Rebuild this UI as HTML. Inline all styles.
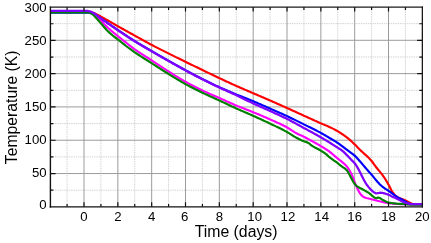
<!DOCTYPE html>
<html><head><meta charset="utf-8"><title>Temperature vs Time</title>
<style>
html,body{margin:0;padding:0;background:#fff;}
body{width:431px;height:243px;overflow:hidden;position:relative;font-family:"Liberation Sans",sans-serif;}
</style></head><body>
<svg width="431" height="243" viewBox="0 0 431 243" style="position:absolute;left:0;top:0;will-change:transform">
<rect x="0" y="0" width="431" height="243" fill="#fff"/>
<path d="M67.08 7.1 V206.85 M100.92 7.1 V206.85 M134.75 7.1 V206.85 M168.59 7.1 V206.85 M202.42 7.1 V206.85 M236.26 7.1 V206.85 M270.09 7.1 V206.85 M303.93 7.1 V206.85 M337.76 7.1 V206.85 M371.60 7.1 V206.85 M405.43 7.1 V206.85 M50.4 190.20 H422.35 M50.4 156.89 H422.35 M50.4 123.58 H422.35 M50.4 90.27 H422.35 M50.4 56.96 H422.35 M50.4 23.65 H422.35" stroke="#d2d2d2" stroke-width="1" stroke-dasharray="1.4 0.9" fill="none"/>
<path d="M84.00 7.1 V206.85 M117.84 7.1 V206.85 M151.67 7.1 V206.85 M185.50 7.1 V206.85 M219.34 7.1 V206.85 M253.18 7.1 V206.85 M287.01 7.1 V206.85 M320.85 7.1 V206.85 M354.68 7.1 V206.85 M388.51 7.1 V206.85 M50.4 173.54 H422.35 M50.4 140.23 H422.35 M50.4 106.92 H422.35 M50.4 73.62 H422.35 M50.4 40.31 H422.35" stroke="#9c9c9c" stroke-width="1" fill="none"/>
<clipPath id="c"><rect x="50.4" y="7.1" width="371.95000000000005" height="199.75"/></clipPath>
<g clip-path="url(#c)" fill="none" stroke-linejoin="round" stroke-linecap="butt">
<polyline points="50.4,11.80 51.4,11.80 52.4,11.80 53.4,11.80 54.4,11.80 55.4,11.80 56.4,11.80 57.4,11.80 58.4,11.80 59.4,11.80 60.4,11.80 61.4,11.80 62.4,11.80 63.4,11.80 64.4,11.80 65.4,11.80 66.4,11.80 67.4,11.80 68.4,11.80 69.4,11.80 70.4,11.80 71.4,11.80 72.4,11.80 73.4,11.80 74.4,11.80 75.4,11.80 76.4,11.80 77.4,11.80 78.4,11.80 79.4,11.80 80.4,11.80 81.4,11.80 82.4,11.80 83.4,11.80 84.4,11.80 85.4,11.80 86.4,11.80 86.5,11.80 87.4,11.83 88.4,11.91 89.4,12.02 90.0,12.10 90.4,12.16 91.4,12.36 92.4,12.62 93.0,12.80 93.4,12.93 94.4,13.32 95.4,13.78 96.4,14.25 96.5,14.30 97.4,14.74 98.4,15.25 99.4,15.78 100.4,16.32 100.9,16.60 101.4,16.86 102.4,17.41 103.4,17.96 104.4,18.52 105.4,19.08 106.4,19.65 107.4,20.22 108.4,20.79 109.4,21.37 110.4,21.94 111.4,22.52 112.4,23.10 113.4,23.67 114.4,24.25 115.4,24.82 116.4,25.39 117.4,25.96 117.8,26.20 118.4,26.52 119.4,27.08 120.4,27.64 121.4,28.20 122.4,28.75 123.4,29.31 124.4,29.87 125.4,30.42 126.4,30.98 127.4,31.53 128.4,32.09 129.4,32.64 130.4,33.19 131.4,33.75 132.4,34.30 133.4,34.85 134.4,35.41 134.8,35.60 135.4,35.96 136.4,36.51 137.4,37.07 138.4,37.62 139.4,38.18 140.4,38.74 141.4,39.30 142.4,39.85 143.4,40.41 144.4,40.96 145.4,41.51 146.4,42.06 147.4,42.61 148.4,43.15 149.4,43.69 150.4,44.23 151.4,44.76 151.7,44.90 152.4,45.28 153.4,45.81 154.4,46.33 155.4,46.85 156.4,47.36 157.4,47.87 158.4,48.38 159.4,48.89 160.4,49.40 161.4,49.90 162.4,50.41 163.4,50.91 164.4,51.41 165.4,51.91 166.4,52.41 167.4,52.91 168.4,53.41 168.6,53.50 169.4,53.91 170.4,54.40 171.4,54.90 172.4,55.39 173.4,55.89 174.4,56.38 175.4,56.87 176.4,57.36 177.4,57.85 178.4,58.34 179.4,58.82 180.4,59.31 181.4,59.80 182.4,60.29 183.4,60.77 184.4,61.26 185.4,61.75 185.5,61.80 186.4,62.24 187.4,62.72 188.4,63.21 189.4,63.70 190.4,64.18 191.4,64.67 192.4,65.15 193.4,65.64 194.4,66.12 195.4,66.61 196.4,67.09 197.4,67.58 198.4,68.06 199.4,68.54 200.4,69.02 201.4,69.51 202.4,69.99 202.4,70.00 203.4,70.47 204.4,70.95 205.4,71.44 206.4,71.92 207.4,72.40 208.4,72.88 209.4,73.36 210.4,73.84 211.4,74.32 212.4,74.80 213.4,75.28 214.4,75.76 215.4,76.24 216.4,76.71 217.4,77.19 218.4,77.66 219.3,78.10 219.4,78.13 220.4,78.60 221.4,79.07 222.4,79.54 223.4,80.00 224.4,80.47 225.4,80.94 226.4,81.40 227.4,81.87 228.4,82.33 229.4,82.79 230.4,83.25 231.4,83.71 232.4,84.16 233.4,84.62 234.4,85.07 235.4,85.52 236.3,85.90 236.4,85.96 237.4,86.41 238.4,86.85 239.4,87.29 240.4,87.72 241.4,88.15 242.4,88.59 243.4,89.02 244.4,89.44 245.4,89.87 246.4,90.30 247.4,90.73 248.4,91.15 249.4,91.58 250.4,92.01 251.4,92.44 252.4,92.87 253.2,93.20 253.4,93.30 254.4,93.73 255.4,94.16 256.4,94.59 257.4,95.02 258.4,95.45 259.4,95.88 260.4,96.31 261.4,96.74 262.4,97.17 263.4,97.60 264.4,98.03 265.4,98.46 266.4,98.89 267.4,99.33 268.4,99.76 269.4,100.20 270.1,100.50 270.4,100.63 271.4,101.07 272.4,101.51 273.4,101.95 274.4,102.39 275.4,102.83 276.4,103.27 277.4,103.72 278.4,104.16 279.4,104.60 280.4,105.05 281.4,105.49 282.4,105.94 283.4,106.38 284.4,106.83 285.4,107.28 286.4,107.73 287.0,108.00 287.4,108.18 288.4,108.63 289.4,109.08 290.4,109.53 291.4,109.99 292.4,110.44 293.4,110.90 294.4,111.35 295.4,111.81 296.4,112.27 297.4,112.73 298.4,113.18 299.4,113.64 300.4,114.10 301.4,114.55 302.4,115.01 303.4,115.46 303.9,115.70 304.4,115.91 305.4,116.37 306.4,116.82 307.4,117.27 308.4,117.73 309.4,118.18 310.4,118.64 311.4,119.09 312.4,119.54 313.4,119.99 314.4,120.44 315.4,120.89 316.4,121.34 317.4,121.78 318.4,122.23 319.4,122.67 320.4,123.11 320.8,123.30 321.4,123.54 322.4,123.96 323.4,124.38 324.4,124.79 325.4,125.20 326.4,125.62 327.4,126.05 328.4,126.49 329.3,126.90 329.4,126.95 330.4,127.42 331.4,127.90 332.4,128.39 333.4,128.90 334.4,129.42 335.4,129.95 336.4,130.50 337.4,131.07 337.8,131.30 338.4,131.66 339.4,132.31 340.0,132.70 340.4,132.96 341.4,133.61 342.4,134.26 343.4,134.92 344.4,135.60 345.4,136.31 346.2,136.90 346.4,137.05 347.4,137.84 348.4,138.67 349.4,139.52 350.4,140.40 351.4,141.31 352.4,142.23 353.4,143.17 354.4,144.12 354.7,144.40 355.4,145.08 356.4,146.09 357.4,147.14 358.4,148.18 359.4,149.21 360.2,150.00 360.4,150.19 361.4,151.13 362.4,152.04 363.4,152.94 364.4,153.83 365.4,154.73 366.4,155.65 367.4,156.60 367.6,156.80 368.4,157.59 369.4,158.60 370.4,159.65 371.4,160.77 371.6,161.00 372.4,162.00 373.4,163.37 374.4,164.80 375.4,166.20 376.0,167.00 376.4,167.51 377.4,168.73 378.4,169.95 378.6,170.20 379.4,171.20 380.4,172.43 381.4,173.67 382.4,174.95 383.4,176.30 384.1,177.30 384.4,177.74 385.4,179.30 386.4,180.95 387.4,182.67 388.4,184.44 388.6,184.80 389.4,186.32 390.4,188.34 391.4,190.26 391.9,191.10 392.4,191.86 393.4,193.27 394.4,194.49 394.5,194.60 395.4,195.56 396.4,196.43 396.5,196.50 397.4,197.04 398.4,197.54 399.4,197.97 400.4,198.40 401.4,198.82 402.4,199.21 403.4,199.58 404.4,199.97 405.4,200.40 405.5,200.45 406.4,200.89 407.4,201.44 408.4,202.00 409.4,202.53 409.7,202.67 410.4,203.02 411.4,203.52 412.4,203.89 412.7,203.95 413.4,204.05 414.4,204.17 415.4,204.24 416.0,204.25 416.4,204.25 417.4,204.25 418.4,204.25 419.4,204.25 420.4,204.25 421.4,204.25 422.4,204.25" stroke="#ff0000" stroke-width="2.15"/>
<polyline points="50.4,12.60 51.4,12.60 52.4,12.60 53.4,12.60 54.4,12.60 55.4,12.60 56.4,12.60 57.4,12.60 58.4,12.60 59.4,12.60 60.4,12.60 61.4,12.60 62.4,12.60 63.4,12.60 64.4,12.60 65.4,12.60 66.4,12.60 67.4,12.60 68.4,12.60 69.4,12.60 70.4,12.60 71.4,12.60 72.4,12.60 73.4,12.60 74.4,12.60 75.4,12.60 76.4,12.60 77.4,12.60 78.4,12.60 79.4,12.60 80.4,12.60 81.4,12.60 82.4,12.60 83.4,12.60 84.4,12.60 85.4,12.60 86.4,12.60 86.5,12.60 87.4,12.64 88.4,12.75 89.4,12.90 90.0,13.00 90.4,13.07 91.4,13.31 92.4,13.60 93.0,13.80 93.4,13.94 94.4,14.35 95.4,14.82 96.4,15.35 96.5,15.40 97.4,15.93 98.4,16.60 99.4,17.32 100.4,18.04 100.9,18.40 101.4,18.73 102.4,19.41 103.4,20.10 104.4,20.79 105.4,21.48 106.4,22.17 107.4,22.86 108.4,23.55 109.4,24.24 110.4,24.93 111.4,25.62 112.4,26.31 113.4,26.99 114.4,27.68 115.4,28.36 116.4,29.03 117.4,29.71 117.8,30.00 118.4,30.38 119.4,31.05 120.4,31.72 121.4,32.39 122.4,33.06 123.4,33.73 124.4,34.40 125.4,35.06 126.4,35.72 127.4,36.38 128.4,37.04 129.4,37.69 130.4,38.34 131.4,38.98 132.4,39.62 133.4,40.25 134.4,40.88 134.8,41.10 135.4,41.50 136.4,42.12 137.4,42.73 138.4,43.33 139.4,43.93 140.4,44.53 141.4,45.12 142.4,45.71 143.4,46.29 144.4,46.88 145.4,47.46 146.4,48.04 147.4,48.62 148.4,49.20 149.4,49.78 150.4,50.36 151.4,50.94 151.7,51.10 152.4,51.52 153.4,52.11 154.4,52.69 155.4,53.26 156.4,53.84 157.4,54.42 158.4,54.99 159.4,55.57 160.4,56.14 161.4,56.72 162.4,57.29 163.4,57.86 164.4,58.43 165.4,59.00 166.4,59.56 167.4,60.13 168.4,60.69 168.6,60.80 169.4,61.26 170.4,61.82 171.4,62.39 172.4,62.95 173.4,63.51 174.4,64.07 175.4,64.63 176.4,65.19 177.4,65.75 178.4,66.30 179.4,66.86 180.4,67.41 181.4,67.96 182.4,68.51 183.4,69.06 184.4,69.60 185.4,70.14 185.5,70.20 186.4,70.68 187.4,71.22 188.4,71.76 189.4,72.30 190.4,72.84 191.4,73.37 192.4,73.90 193.4,74.43 194.4,74.96 195.4,75.49 196.4,76.01 197.4,76.53 198.4,77.05 199.4,77.57 200.4,78.08 201.4,78.59 202.4,79.09 202.4,79.10 203.4,79.59 204.4,80.09 205.4,80.58 206.4,81.08 207.4,81.57 208.4,82.06 209.4,82.54 210.4,83.03 211.4,83.51 212.4,83.98 213.4,84.46 214.4,84.93 215.4,85.39 216.4,85.86 217.4,86.32 218.4,86.77 219.3,87.20 219.4,87.23 220.4,87.68 221.4,88.12 222.4,88.56 223.4,89.00 224.4,89.43 225.4,89.86 226.4,90.29 227.4,90.71 228.4,91.13 229.4,91.55 230.4,91.97 231.4,92.39 232.4,92.80 233.4,93.22 234.4,93.63 235.4,94.05 236.3,94.40 236.4,94.46 237.4,94.87 238.4,95.28 239.4,95.68 240.4,96.08 241.4,96.48 242.4,96.87 243.4,97.27 244.4,97.66 245.4,98.06 246.4,98.45 247.4,98.85 248.4,99.25 249.4,99.65 250.4,100.06 251.4,100.46 252.4,100.88 253.2,101.20 253.4,101.29 254.4,101.72 255.4,102.14 256.4,102.57 257.4,103.00 258.4,103.44 259.4,103.87 260.4,104.31 261.4,104.75 262.4,105.19 263.4,105.64 264.4,106.08 265.4,106.52 266.4,106.97 267.4,107.41 268.4,107.85 269.4,108.29 270.1,108.60 270.4,108.74 271.4,109.17 272.4,109.61 273.4,110.05 274.4,110.48 275.4,110.92 276.4,111.36 277.4,111.79 278.4,112.23 279.4,112.67 280.4,113.11 281.4,113.55 282.4,114.00 283.4,114.45 284.4,114.90 285.4,115.36 286.4,115.82 287.0,116.10 287.4,116.28 288.4,116.75 289.4,117.23 290.4,117.71 291.4,118.19 292.4,118.68 293.4,119.16 294.4,119.66 295.4,120.15 296.4,120.65 297.4,121.14 298.4,121.64 299.4,122.14 300.4,122.64 301.4,123.14 302.4,123.64 303.4,124.14 303.9,124.40 304.4,124.63 305.4,125.13 306.4,125.62 307.4,126.11 308.4,126.60 309.4,127.09 310.4,127.58 311.4,128.07 312.4,128.56 313.4,129.05 314.4,129.55 315.4,130.06 316.4,130.56 317.4,131.08 318.4,131.60 319.4,132.12 320.4,132.66 320.8,132.90 321.4,133.20 322.4,133.76 323.4,134.33 324.4,134.90 325.4,135.49 326.4,136.08 327.4,136.67 328.4,137.26 329.3,137.80 329.4,137.86 330.4,138.45 331.4,139.04 332.4,139.63 333.4,140.23 334.4,140.83 335.4,141.45 336.4,142.08 337.4,142.73 337.8,143.00 338.4,143.41 339.4,144.12 340.4,144.86 341.4,145.61 342.4,146.38 343.4,147.15 344.4,147.93 345.4,148.69 346.2,149.30 346.4,149.45 347.4,150.18 348.4,150.89 349.4,151.59 350.4,152.30 351.4,153.03 352.4,153.78 353.4,154.57 354.4,155.42 354.6,155.60 355.4,156.34 356.4,157.35 357.4,158.42 358.4,159.54 359.4,160.68 360.4,161.83 360.9,162.40 361.4,162.98 362.4,164.16 363.4,165.37 364.4,166.56 364.6,166.80 365.4,167.74 366.4,168.92 367.4,170.07 367.6,170.30 368.4,171.19 369.4,172.27 370.4,173.36 371.4,174.47 371.6,174.70 372.4,175.65 373.4,176.89 374.4,178.14 375.4,179.37 376.1,180.20 376.4,180.55 377.4,181.71 378.4,182.84 379.4,183.91 380.0,184.50 380.4,184.88 381.4,185.77 382.4,186.61 383.4,187.40 384.2,188.00 384.4,188.14 385.4,188.82 386.4,189.45 387.4,190.08 388.4,190.73 388.5,190.80 389.4,191.44 390.4,192.18 391.4,192.91 391.8,193.20 392.4,193.63 393.4,194.35 394.4,195.08 395.4,195.79 396.4,196.47 397.4,197.12 398.2,197.60 398.4,197.71 399.4,198.23 400.4,198.72 401.4,199.23 401.6,199.33 402.4,199.80 403.4,200.43 404.4,201.05 405.4,201.62 405.5,201.67 406.4,202.14 407.4,202.67 408.4,203.16 409.4,203.56 410.4,203.83 410.5,203.85 411.4,204.00 412.4,204.15 413.4,204.23 414.0,204.25 414.4,204.25 415.4,204.25 416.4,204.25 417.4,204.25 418.4,204.25 419.4,204.25 420.4,204.25 421.4,204.25 422.4,204.25" stroke="#0000ff" stroke-width="2.15"/>
<polyline points="50.4,11.80 51.4,11.80 52.4,11.80 53.4,11.80 54.4,11.80 55.4,11.80 56.4,11.80 57.4,11.80 58.4,11.80 59.4,11.80 60.4,11.80 61.4,11.80 62.4,11.80 63.4,11.80 64.4,11.80 65.4,11.80 66.4,11.80 67.4,11.80 68.4,11.80 69.4,11.80 70.4,11.80 71.4,11.80 72.4,11.80 73.4,11.80 74.4,11.80 75.4,11.80 76.4,11.80 77.4,11.80 78.4,11.80 79.4,11.80 80.4,11.80 81.4,11.80 82.4,11.80 83.4,11.80 84.4,11.80 85.4,11.80 86.4,11.80 86.5,11.80 87.4,11.86 88.4,12.02 89.4,12.25 90.0,12.40 90.4,12.51 91.4,12.86 92.4,13.31 93.0,13.60 93.4,13.81 94.4,14.42 95.4,15.14 96.0,15.60 96.4,15.93 97.4,16.85 98.4,17.88 99.4,18.96 100.4,20.05 101.1,20.80 101.4,21.12 102.4,22.21 103.4,23.31 104.4,24.39 105.0,25.00 105.4,25.39 106.4,26.35 107.4,27.28 108.4,28.18 109.4,29.07 110.0,29.60 110.4,29.95 111.4,30.82 112.4,31.67 113.4,32.52 114.4,33.35 115.4,34.18 116.4,35.00 117.4,35.81 118.0,36.30 118.4,36.62 119.4,37.42 120.4,38.21 121.4,38.99 121.8,39.30 122.4,39.77 123.4,40.56 124.4,41.35 125.4,42.14 126.4,42.93 127.4,43.72 128.4,44.51 129.4,45.29 130.4,46.06 131.4,46.83 132.4,47.58 133.4,48.32 134.4,49.05 134.8,49.30 135.4,49.76 136.4,50.46 137.4,51.14 138.4,51.82 139.4,52.49 140.4,53.15 141.4,53.80 142.4,54.45 143.4,55.09 144.4,55.73 145.4,56.37 146.4,57.01 147.4,57.64 148.4,58.28 149.4,58.93 150.4,59.57 151.4,60.22 151.7,60.40 152.4,60.88 153.4,61.54 154.4,62.20 155.4,62.86 156.4,63.53 157.4,64.19 158.4,64.86 159.4,65.52 160.4,66.18 161.4,66.84 162.4,67.50 163.4,68.16 164.4,68.81 165.4,69.46 166.4,70.11 167.4,70.75 168.4,71.38 168.6,71.50 169.4,72.01 170.4,72.65 171.4,73.28 172.4,73.91 173.4,74.54 174.4,75.16 175.4,75.79 176.4,76.41 177.4,77.02 178.4,77.64 179.4,78.24 180.4,78.84 181.4,79.44 182.4,80.03 183.4,80.61 184.4,81.18 185.4,81.74 185.5,81.80 186.4,82.30 187.4,82.85 188.4,83.39 189.4,83.93 190.4,84.46 191.4,84.99 192.4,85.51 193.4,86.03 194.4,86.55 195.4,87.05 196.4,87.56 197.4,88.06 198.4,88.55 199.4,89.04 200.4,89.53 201.4,90.01 202.4,90.49 202.4,90.50 203.4,90.96 204.4,91.43 205.4,91.89 206.4,92.34 207.4,92.79 208.4,93.23 209.4,93.67 210.4,94.11 211.4,94.54 212.4,94.98 213.4,95.41 214.4,95.84 215.4,96.28 216.4,96.71 217.4,97.15 218.4,97.58 219.3,98.00 219.4,98.03 220.4,98.47 221.4,98.92 222.4,99.37 223.4,99.82 224.4,100.27 225.4,100.72 226.4,101.17 227.4,101.62 228.4,102.07 229.4,102.52 230.4,102.97 231.4,103.41 232.4,103.85 233.4,104.28 234.4,104.71 235.4,105.14 236.3,105.50 236.4,105.56 237.4,105.97 238.4,106.38 239.4,106.78 240.4,107.18 241.4,107.58 242.4,107.97 243.4,108.36 244.4,108.74 245.4,109.13 246.4,109.52 247.4,109.91 248.4,110.30 249.4,110.69 250.4,111.08 251.4,111.48 252.4,111.88 253.2,112.20 253.4,112.29 254.4,112.70 255.4,113.12 256.4,113.53 257.4,113.94 258.4,114.36 259.4,114.78 260.4,115.20 261.4,115.62 262.4,116.05 263.4,116.47 264.4,116.90 265.4,117.33 266.4,117.77 267.4,118.21 268.4,118.65 269.4,119.09 270.1,119.40 270.4,119.54 271.4,119.98 272.4,120.43 273.4,120.87 274.4,121.32 275.4,121.76 276.4,122.21 277.4,122.67 278.4,123.12 279.4,123.59 280.4,124.06 281.4,124.53 282.4,125.02 283.4,125.52 284.4,126.02 285.4,126.54 286.4,127.07 287.0,127.40 287.4,127.62 288.4,128.20 289.4,128.83 290.4,129.48 291.4,130.14 292.4,130.80 293.4,131.45 294.4,132.07 295.4,132.67 296.0,133.00 296.4,133.21 297.4,133.72 298.4,134.21 299.4,134.67 300.4,135.13 301.4,135.59 302.4,136.05 303.4,136.54 303.9,136.80 304.4,137.04 305.4,137.55 306.4,138.07 307.4,138.59 308.4,139.12 309.4,139.65 310.4,140.18 311.4,140.73 312.4,141.27 313.4,141.82 314.4,142.38 315.4,142.94 316.4,143.51 317.4,144.08 318.4,144.66 319.4,145.25 320.4,145.84 320.8,146.10 321.4,146.43 322.4,147.03 323.4,147.63 324.4,148.25 325.4,148.87 326.4,149.51 327.4,150.18 328.4,150.86 329.3,151.50 329.4,151.57 330.4,152.33 331.4,153.13 332.4,153.96 333.4,154.82 334.4,155.69 335.4,156.57 336.4,157.43 337.4,158.27 337.8,158.60 338.4,159.08 339.4,159.88 340.4,160.66 341.4,161.45 342.4,162.26 342.8,162.60 343.4,163.11 344.4,163.96 345.4,164.90 345.5,165.00 346.4,165.96 347.4,167.17 347.5,167.30 348.4,168.62 349.4,170.28 349.7,170.80 350.4,172.05 351.4,173.96 352.0,175.20 352.4,176.08 353.4,178.48 353.6,179.00 354.4,181.33 354.5,181.60 355.4,183.91 356.4,186.29 357.4,188.53 357.5,188.75 358.4,190.63 358.6,191.00 359.4,192.42 360.4,193.95 360.6,194.20 361.4,195.11 362.4,196.07 363.1,196.60 363.4,196.79 364.4,197.33 365.3,197.70 365.4,197.73 366.4,198.02 367.4,198.26 368.4,198.47 369.4,198.68 369.9,198.80 370.4,198.93 371.4,199.19 372.4,199.46 373.4,199.73 374.4,200.00 375.4,200.27 376.1,200.45 376.4,200.52 377.4,200.78 378.4,201.03 379.4,201.29 380.4,201.54 381.4,201.79 382.4,202.02 383.4,202.24 384.4,202.45 385.4,202.64 385.6,202.67 386.4,202.81 387.4,202.97 388.4,203.12 389.4,203.26 390.4,203.39 391.4,203.50 391.9,203.55 392.4,203.60 393.4,203.69 394.4,203.77 395.4,203.85 396.4,203.92 397.4,203.98 398.4,204.03 399.1,204.05 399.4,204.06 400.4,204.08 401.4,204.11 402.4,204.13 403.4,204.16 404.4,204.18 405.4,204.19 406.4,204.21 407.4,204.22 408.4,204.23 409.4,204.24 410.4,204.25 411.4,204.25 411.5,204.25 412.4,204.25 413.4,204.25 414.4,204.25 415.4,204.25 416.4,204.25 417.4,204.25 418.4,204.25 419.4,204.25 420.4,204.25 421.4,204.25 422.4,204.25" stroke="#ff00ff" stroke-width="2.15"/>
<polyline points="50.4,12.30 51.4,12.30 52.4,12.30 53.4,12.30 54.4,12.30 55.4,12.30 56.4,12.30 57.4,12.30 58.4,12.30 59.4,12.30 60.4,12.30 61.4,12.30 62.4,12.30 63.4,12.30 64.4,12.30 65.4,12.30 66.4,12.30 67.4,12.30 68.4,12.30 69.4,12.30 70.4,12.30 71.4,12.30 72.4,12.30 73.4,12.30 74.4,12.30 75.4,12.30 76.4,12.30 77.4,12.30 78.4,12.30 79.4,12.30 80.4,12.30 81.4,12.30 82.4,12.30 83.4,12.30 84.4,12.30 85.4,12.30 86.4,12.30 87.0,12.30 87.4,12.31 88.4,12.45 89.4,12.70 90.4,13.02 90.9,13.20 91.4,13.43 92.4,14.12 93.0,14.60 93.4,14.95 94.4,15.98 95.4,17.09 95.5,17.20 96.4,18.18 97.4,19.31 98.4,20.45 99.4,21.60 100.4,22.74 100.8,23.20 101.4,23.89 102.4,25.07 103.4,26.25 104.4,27.43 105.4,28.58 106.4,29.68 107.0,30.30 107.4,30.70 108.4,31.68 109.4,32.62 110.4,33.52 111.4,34.39 112.0,34.90 112.4,35.23 113.4,36.03 114.4,36.79 115.4,37.53 116.4,38.28 117.4,39.03 118.0,39.50 118.4,39.82 119.4,40.63 120.4,41.46 121.4,42.29 122.4,43.12 123.4,43.93 124.0,44.40 124.4,44.71 125.4,45.48 126.4,46.24 127.4,47.00 128.4,47.75 129.4,48.49 130.4,49.22 131.4,49.94 132.4,50.65 133.4,51.36 134.4,52.06 134.8,52.30 135.4,52.74 136.4,53.42 137.4,54.09 138.4,54.75 139.4,55.41 140.4,56.06 141.4,56.70 142.4,57.34 143.4,57.97 144.4,58.60 145.4,59.23 146.4,59.86 147.4,60.49 148.4,61.12 149.4,61.75 150.4,62.39 151.4,63.03 151.7,63.20 152.4,63.67 153.4,64.31 154.4,64.96 155.4,65.60 156.4,66.25 157.4,66.89 158.4,67.54 159.4,68.18 160.4,68.83 161.4,69.47 162.4,70.11 163.4,70.74 164.4,71.38 165.4,72.01 166.4,72.64 167.4,73.26 168.4,73.88 168.6,74.00 169.4,74.50 170.4,75.12 171.4,75.74 172.4,76.35 173.4,76.97 174.4,77.58 175.4,78.19 176.4,78.80 177.4,79.41 178.4,80.01 179.4,80.60 180.4,81.19 181.4,81.78 182.4,82.35 183.4,82.93 184.4,83.49 185.4,84.04 185.5,84.10 186.4,84.59 187.4,85.13 188.4,85.66 189.4,86.19 190.4,86.71 191.4,87.23 192.4,87.75 193.4,88.25 194.4,88.76 195.4,89.26 196.4,89.76 197.4,90.25 198.4,90.74 199.4,91.23 200.4,91.72 201.4,92.20 202.4,92.69 202.4,92.70 203.4,93.17 204.4,93.65 205.4,94.12 206.4,94.58 207.4,95.05 208.4,95.51 209.4,95.97 210.4,96.42 211.4,96.88 212.4,97.33 213.4,97.78 214.4,98.24 215.4,98.69 216.4,99.15 217.4,99.61 218.4,100.07 219.3,100.50 219.4,100.53 220.4,100.99 221.4,101.46 222.4,101.93 223.4,102.40 224.4,102.87 225.4,103.34 226.4,103.82 227.4,104.29 228.4,104.76 229.4,105.23 230.4,105.70 231.4,106.17 232.4,106.63 233.4,107.09 234.4,107.55 235.4,108.01 236.3,108.40 236.4,108.46 237.4,108.91 238.4,109.36 239.4,109.80 240.4,110.24 241.4,110.67 242.4,111.11 243.4,111.54 244.4,111.97 245.4,112.40 246.4,112.83 247.4,113.26 248.4,113.70 249.4,114.13 250.4,114.57 251.4,115.01 252.4,115.45 253.2,115.80 253.4,115.90 254.4,116.35 255.4,116.80 256.4,117.25 257.4,117.71 258.4,118.16 259.4,118.62 260.4,119.07 261.4,119.53 262.4,119.99 263.4,120.45 264.4,120.92 265.4,121.38 266.4,121.85 267.4,122.32 268.4,122.79 269.4,123.27 270.1,123.60 270.4,123.75 271.4,124.22 272.4,124.70 273.4,125.17 274.4,125.65 275.4,126.12 276.4,126.60 277.4,127.08 278.4,127.57 279.4,128.05 280.4,128.55 281.4,129.05 282.4,129.55 283.4,130.07 284.4,130.59 285.4,131.12 286.4,131.66 287.0,132.00 287.4,132.22 288.4,132.81 289.4,133.42 290.4,134.06 291.4,134.70 292.4,135.35 293.4,135.98 294.4,136.59 295.4,137.17 296.0,137.50 296.4,137.71 297.4,138.24 298.4,138.75 299.4,139.25 300.4,139.74 301.4,140.20 302.4,140.65 303.4,141.08 303.9,141.30 304.4,141.48 305.4,141.81 306.4,142.12 307.4,142.46 308.4,142.90 308.6,143.00 309.4,143.61 310.4,144.58 310.9,145.00 311.4,145.35 312.4,146.01 313.4,146.61 314.4,147.18 315.4,147.72 316.4,148.24 317.4,148.76 318.4,149.28 319.4,149.82 320.4,150.40 320.9,150.70 321.4,151.01 322.4,151.62 323.4,152.25 324.4,152.91 325.4,153.62 325.9,154.00 326.4,154.41 327.4,155.34 328.4,156.30 329.3,157.10 329.4,157.18 330.4,157.96 331.4,158.69 332.4,159.39 333.4,160.07 334.4,160.76 335.4,161.46 336.0,161.90 336.4,162.20 337.4,162.97 338.4,163.75 339.4,164.54 340.4,165.33 341.4,166.10 342.4,166.84 342.9,167.20 343.4,167.53 344.4,168.17 345.0,168.60 345.4,168.92 346.4,169.84 347.0,170.50 347.4,171.03 348.4,172.69 349.4,174.54 349.6,174.90 350.4,176.40 351.2,178.00 351.4,178.27 352.4,180.16 353.4,181.98 354.4,183.56 354.5,183.70 355.4,184.80 355.9,185.30 356.4,185.74 357.4,186.51 358.4,187.17 358.6,187.30 359.4,187.77 360.4,188.31 361.4,188.80 362.4,189.29 363.4,189.81 363.8,190.00 364.4,190.36 365.4,190.92 366.4,191.48 367.4,192.06 368.4,192.69 369.4,193.36 370.0,193.80 370.4,194.13 371.4,195.09 372.2,195.80 372.4,195.96 373.4,196.77 374.4,197.49 375.4,197.97 375.5,198.00 376.4,198.19 376.6,198.20 377.4,197.76 377.8,197.60 378.4,197.65 379.4,197.87 379.5,197.90 380.4,198.32 381.4,199.04 382.4,199.72 382.5,199.78 383.4,200.26 384.4,200.80 385.4,201.31 386.4,201.77 387.4,202.17 388.4,202.48 388.8,202.56 389.4,202.70 390.4,202.88 391.4,203.05 392.4,203.20 393.4,203.33 394.4,203.44 395.4,203.54 396.4,203.63 396.6,203.65 397.4,203.71 398.4,203.78 399.4,203.84 400.4,203.89 401.4,203.94 402.4,203.99 403.4,204.04 404.4,204.11 405.0,204.15 405.4,204.19 406.4,204.30 407.4,204.43 408.4,204.52 409.0,204.55 409.4,204.56 410.4,204.57 411.4,204.59 412.4,204.60 413.4,204.61 414.4,204.62 415.4,204.63 416.4,204.63 417.4,204.64 418.4,204.64 419.4,204.65 420.4,204.65 421.4,204.65 422.4,204.65" stroke="#008000" stroke-width="2.15"/>
<polyline points="50.4,10.80 51.4,10.80 52.4,10.80 53.4,10.80 54.4,10.80 55.4,10.80 56.4,10.80 57.4,10.80 58.4,10.80 59.4,10.80 60.4,10.80 61.4,10.80 62.4,10.80 63.4,10.80 64.4,10.80 65.4,10.80 66.4,10.80 67.4,10.80 68.4,10.80 69.4,10.80 70.4,10.80 71.4,10.80 72.4,10.80 73.4,10.80 74.4,10.80 75.4,10.80 76.4,10.80 77.4,10.80 78.4,10.80 79.4,10.80 80.4,10.80 81.4,10.80 82.4,10.80 83.4,10.80 84.4,10.80 85.4,10.80 86.4,10.80 86.5,10.80 87.4,10.86 88.4,11.02 89.4,11.25 90.0,11.40 90.4,11.51 91.4,11.90 92.4,12.39 93.0,12.70 93.4,12.92 94.4,13.53 95.4,14.22 96.4,14.93 96.5,15.00 97.4,15.66 98.4,16.44 99.4,17.23 100.4,18.01 100.9,18.40 101.4,18.76 102.4,19.49 103.4,20.21 104.4,20.93 105.4,21.65 106.4,22.35 107.4,23.06 108.4,23.75 109.4,24.45 110.4,25.14 111.4,25.83 112.4,26.51 113.4,27.19 114.4,27.87 115.4,28.55 116.4,29.23 117.4,29.91 117.8,30.20 118.4,30.58 119.4,31.26 120.4,31.93 121.4,32.60 122.4,33.27 123.4,33.94 124.4,34.61 125.4,35.27 126.4,35.93 127.4,36.59 128.4,37.25 129.4,37.90 130.4,38.54 131.4,39.18 132.4,39.82 133.4,40.45 134.4,41.08 134.8,41.30 135.4,41.70 136.4,42.32 137.4,42.93 138.4,43.53 139.4,44.13 140.4,44.73 141.4,45.32 142.4,45.91 143.4,46.49 144.4,47.08 145.4,47.66 146.4,48.24 147.4,48.82 148.4,49.40 149.4,49.98 150.4,50.56 151.4,51.14 151.7,51.30 152.4,51.72 153.4,52.31 154.4,52.89 155.4,53.46 156.4,54.04 157.4,54.62 158.4,55.19 159.4,55.77 160.4,56.34 161.4,56.92 162.4,57.49 163.4,58.06 164.4,58.63 165.4,59.20 166.4,59.76 167.4,60.33 168.4,60.89 168.6,61.00 169.4,61.46 170.4,62.02 171.4,62.59 172.4,63.15 173.4,63.71 174.4,64.27 175.4,64.83 176.4,65.39 177.4,65.95 178.4,66.50 179.4,67.06 180.4,67.61 181.4,68.16 182.4,68.71 183.4,69.26 184.4,69.80 185.4,70.34 185.5,70.40 186.4,70.88 187.4,71.42 188.4,71.96 189.4,72.50 190.4,73.03 191.4,73.57 192.4,74.10 193.4,74.63 194.4,75.16 195.4,75.68 196.4,76.21 197.4,76.73 198.4,77.24 199.4,77.76 200.4,78.27 201.4,78.78 202.4,79.29 202.4,79.30 203.4,79.79 204.4,80.29 205.4,80.79 206.4,81.28 207.4,81.78 208.4,82.27 209.4,82.76 210.4,83.24 211.4,83.72 212.4,84.21 213.4,84.69 214.4,85.16 215.4,85.64 216.4,86.11 217.4,86.59 218.4,87.06 219.3,87.50 219.4,87.53 220.4,87.99 221.4,88.46 222.4,88.92 223.4,89.37 224.4,89.82 225.4,90.27 226.4,90.72 227.4,91.17 228.4,91.62 229.4,92.07 230.4,92.52 231.4,92.97 232.4,93.42 233.4,93.88 234.4,94.34 235.4,94.80 236.3,95.20 236.4,95.27 237.4,95.74 238.4,96.22 239.4,96.70 240.4,97.19 241.4,97.67 242.4,98.17 243.4,98.66 244.4,99.15 245.4,99.64 246.4,100.14 247.4,100.63 248.4,101.12 249.4,101.60 250.4,102.08 251.4,102.56 252.4,103.04 253.2,103.40 253.4,103.50 254.4,103.97 255.4,104.43 256.4,104.88 257.4,105.33 258.4,105.78 259.4,106.23 260.4,106.67 261.4,107.11 262.4,107.56 263.4,108.00 264.4,108.44 265.4,108.89 266.4,109.33 267.4,109.78 268.4,110.23 269.4,110.68 270.1,111.00 270.4,111.14 271.4,111.60 272.4,112.05 273.4,112.51 274.4,112.96 275.4,113.42 276.4,113.87 277.4,114.33 278.4,114.79 279.4,115.25 280.4,115.72 281.4,116.19 282.4,116.66 283.4,117.14 284.4,117.62 285.4,118.10 286.4,118.60 287.0,118.90 287.4,119.10 288.4,119.60 289.4,120.12 290.4,120.64 291.4,121.17 292.4,121.70 293.4,122.23 294.4,122.78 295.4,123.32 296.4,123.87 297.4,124.42 298.4,124.97 299.4,125.52 300.4,126.07 301.4,126.62 302.4,127.17 303.4,127.71 303.9,128.00 304.4,128.26 305.4,128.80 306.4,129.34 307.4,129.88 308.4,130.42 309.4,130.96 310.4,131.50 311.4,132.04 312.4,132.58 313.4,133.13 314.4,133.68 315.4,134.23 316.4,134.78 317.4,135.34 318.4,135.90 319.4,136.47 320.4,137.04 320.8,137.30 321.4,137.62 322.4,138.21 323.4,138.80 324.4,139.40 325.4,140.01 326.4,140.61 327.4,141.23 328.4,141.84 329.3,142.40 329.4,142.46 330.4,143.08 331.4,143.71 332.4,144.35 333.4,144.98 334.4,145.62 335.4,146.26 336.4,146.90 337.4,147.54 337.8,147.80 338.4,148.18 339.4,148.78 340.4,149.40 341.4,150.06 342.0,150.50 342.4,150.81 343.4,151.67 344.4,152.61 345.4,153.60 346.4,154.60 346.5,154.70 347.4,155.62 348.4,156.69 349.4,157.78 350.4,158.86 351.0,159.50 351.4,159.91 352.4,160.88 353.4,161.85 354.4,162.94 354.7,163.30 355.4,164.23 356.4,165.74 357.4,167.40 358.4,169.15 358.6,169.50 359.4,171.00 360.4,173.03 361.4,175.10 362.1,176.50 362.4,177.09 363.4,179.03 364.2,180.50 364.4,180.85 365.4,182.55 366.4,184.13 367.0,185.00 367.4,185.55 368.4,186.85 369.4,188.04 369.9,188.60 370.4,189.13 371.4,190.12 371.6,190.30 372.4,191.04 373.4,191.90 374.0,192.30 374.4,192.54 375.4,193.10 376.2,193.30 376.4,193.30 377.4,193.19 378.0,193.10 378.4,193.03 379.4,192.79 380.2,192.70 380.4,192.70 381.4,192.77 382.4,192.91 383.0,193.00 383.4,193.08 384.4,193.36 385.4,193.69 385.6,193.75 386.4,193.99 387.4,194.31 388.4,194.66 388.5,194.70 389.4,195.10 390.4,195.62 391.4,196.15 391.9,196.40 392.4,196.64 393.4,197.13 394.4,197.60 395.4,198.08 396.4,198.56 396.7,198.70 397.4,199.04 398.4,199.54 399.4,200.05 400.4,200.56 401.4,201.06 402.4,201.52 403.4,201.95 404.1,202.23 404.4,202.34 405.4,202.69 406.4,203.01 407.4,203.30 408.0,203.45 408.4,203.55 409.4,203.82 410.4,204.04 411.4,204.15 411.5,204.15 412.4,204.15 413.4,204.15 414.4,204.15 415.4,204.15 416.4,204.15 417.4,204.15 418.4,204.15 419.4,204.15 420.4,204.15 421.4,204.15 422.4,204.15" stroke="#8000ff" stroke-width="2.25"/>
</g>
<path d="M67.08 206.85 v-2.8 M67.08 7.1 v2.8 M84.00 206.85 v-4.5 M84.00 7.1 v4.5 M100.92 206.85 v-2.8 M100.92 7.1 v2.8 M117.84 206.85 v-4.5 M117.84 7.1 v4.5 M134.75 206.85 v-2.8 M134.75 7.1 v2.8 M151.67 206.85 v-4.5 M151.67 7.1 v4.5 M168.59 206.85 v-2.8 M168.59 7.1 v2.8 M185.50 206.85 v-4.5 M185.50 7.1 v4.5 M202.42 206.85 v-2.8 M202.42 7.1 v2.8 M219.34 206.85 v-4.5 M219.34 7.1 v4.5 M236.26 206.85 v-2.8 M236.26 7.1 v2.8 M253.18 206.85 v-4.5 M253.18 7.1 v4.5 M270.09 206.85 v-2.8 M270.09 7.1 v2.8 M287.01 206.85 v-4.5 M287.01 7.1 v4.5 M303.93 206.85 v-2.8 M303.93 7.1 v2.8 M320.85 206.85 v-4.5 M320.85 7.1 v4.5 M337.76 206.85 v-2.8 M337.76 7.1 v2.8 M354.68 206.85 v-4.5 M354.68 7.1 v4.5 M371.60 206.85 v-2.8 M371.60 7.1 v2.8 M388.51 206.85 v-4.5 M388.51 7.1 v4.5 M405.43 206.85 v-2.8 M405.43 7.1 v2.8 M50.4 190.20 h3 M422.35 190.20 h-3 M50.4 173.56 h5.2 M422.35 173.56 h-5.2 M50.4 156.91 h3 M422.35 156.91 h-3 M50.4 140.27 h5.2 M422.35 140.27 h-5.2 M50.4 123.62 h3 M422.35 123.62 h-3 M50.4 106.97 h5.2 M422.35 106.97 h-5.2 M50.4 90.33 h3 M422.35 90.33 h-3 M50.4 73.68 h5.2 M422.35 73.68 h-5.2 M50.4 57.04 h3 M422.35 57.04 h-3 M50.4 40.39 h5.2 M422.35 40.39 h-5.2 M50.4 23.75 h3 M422.35 23.75 h-3" stroke="#111" stroke-width="1.2" fill="none"/>
<path d="M50.4 6.6 V207.6" stroke="#111" stroke-width="1.4" fill="none"/>
<path d="M49.699999999999996 206.85 H422.95000000000005" stroke="#111" stroke-width="1.35" fill="none"/>
<path d="M422.35 6.6 V207.6" stroke="#111" stroke-width="1.25" fill="none"/>
<path d="M49.699999999999996 7.1 H422.95000000000005" stroke="#1a1a1a" stroke-width="1.3" fill="none"/>
<g font-family="'Liberation Sans', sans-serif" fill="#000">
<text x="84.00" y="221.4" font-size="13.2" text-anchor="middle">0</text>
<text x="117.84" y="221.4" font-size="13.2" text-anchor="middle">2</text>
<text x="151.67" y="221.4" font-size="13.2" text-anchor="middle">4</text>
<text x="184.60" y="221.4" font-size="13.2" text-anchor="middle">6</text>
<text x="219.34" y="221.4" font-size="13.2" text-anchor="middle">8</text>
<text x="254.68" y="221.4" font-size="13.2" text-anchor="middle">10</text>
<text x="287.91" y="221.4" font-size="13.2" text-anchor="middle">12</text>
<text x="321.65" y="221.4" font-size="13.2" text-anchor="middle">14</text>
<text x="354.68" y="221.4" font-size="13.2" text-anchor="middle">16</text>
<text x="388.51" y="221.4" font-size="13.2" text-anchor="middle">18</text>
<text x="422.35" y="221.4" font-size="13.2" text-anchor="middle">20</text>
<text x="46.6" y="11.7" font-size="13.2" text-anchor="end">300</text>
<text x="46.6" y="44.9" font-size="13.2" text-anchor="end">250</text>
<text x="46.6" y="78.1" font-size="13.2" text-anchor="end">200</text>
<text x="46.6" y="111.3" font-size="13.2" text-anchor="end">150</text>
<text x="46.6" y="144.0" font-size="13.2" text-anchor="end">100</text>
<text x="46.6" y="177.0" font-size="13.2" text-anchor="end">50</text>
<text x="46.6" y="209.0" font-size="13.2" text-anchor="end">0</text>
<text x="236.1" y="236.9" font-size="15.8" text-anchor="middle">Time (days)</text>
<text transform="translate(16.6,107.3) rotate(-90)" font-size="15.75" text-anchor="middle">Temperature (K)</text>
</g>
</svg>
</body></html>
